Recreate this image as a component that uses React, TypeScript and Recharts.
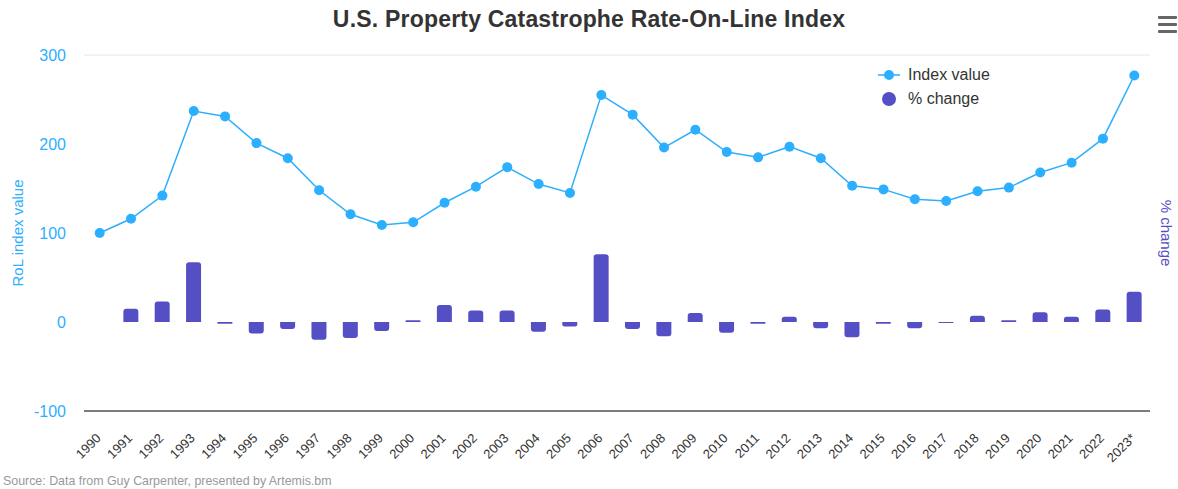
import React from 'react';
import {
  ComposedChart,
  Line,
  Bar,
  XAxis,
  YAxis,
  CartesianGrid,
} from 'recharts';

// 연도 / 지수값 / 전년 대비 변화율
const years = [
  '1990', '1991', '1992', '1993', '1994', '1995', '1996', '1997', '1998', '1999',
  '2000', '2001', '2002', '2003', '2004', '2005', '2006', '2007', '2008', '2009',
  '2010', '2011', '2012', '2013', '2014', '2015', '2016', '2017', '2018', '2019',
  '2020', '2021', '2022', '2023*',
];
const indexValues = [
  100, 116, 142, 237, 231, 201, 184, 148, 121, 109,
  112, 134, 152, 174, 155, 145, 255, 233, 196, 216,
  191, 185, 197, 184, 153, 149, 138, 136, 147, 151,
  168, 179, 206, 277,
];
const pctChange = [
  0, 15, 23, 67, -2, -13, -8, -20, -18, -10,
  2, 19, 13, 13, -11, -5, 76, -8, -16, 10,
  -12, -2, 6, -7, -17, -2, -7, -1, 7, 2,
  11, 6, 14, 34,
];
const yTicks = [-100, 0, 100, 200, 300];

const LINE_COLOR = '#2caffe';
const BAR_COLOR = '#544fc5';
const FONT = '"Liberation Sans", Arial, Helvetica, sans-serif';

const chartData = years.map((year, i) => ({
  year,
  index: indexValues[i],
  change: pctChange[i],
}));

// 막대 끝쪽만 둥글게
const RoundedBar = (props: any) => {
  const { x, y, width, height, payload } = props;
  const h = Math.abs(height);
  if (!h) return null;
  const top = Math.min(y, y + height);
  const r = Math.min(3, h / 2, width / 2);
  const positive = payload.change >= 0;
  let d: string;
  if (positive) {
    d = `M${x},${top + h} L${x},${top + r} Q${x},${top} ${x + r},${top} L${x + width - r},${top} Q${x + width},${top} ${x + width},${top + r} L${x + width},${top + h} Z`;
  } else {
    const b = top + h;
    d = `M${x},${top} L${x + width},${top} L${x + width},${b - r} Q${x + width},${b} ${x + width - r},${b} L${x + r},${b} Q${x},${b} ${x},${b - r} Z`;
  }
  return <path d={d} fill={BAR_COLOR} />;
};

const XTick = ({ x, y, payload }: any) => (
  <g transform={`translate(${x + 2},${y + 26})`}>
    <text
      x={0}
      y={0}
      textAnchor="end"
      transform="rotate(-45)"
      fill="#333"
      fontSize={13}
      fontFamily={FONT}
    >
      {payload.value}
    </text>
  </g>
);

// 축 제목 (회전 텍스트)
const AxisTitle = (text: string, cx: number, angle: number, color: string) => () => (
  <text
    x={cx}
    y={233}
    transform={`rotate(${angle}, ${cx}, 233)`}
    textAnchor="middle"
    dominantBaseline="central"
    fill={color}
    fontSize={15}
    fontFamily={FONT}
  >
    {text}
  </text>
);

const LegendBox = () => (
  <div
    style={{
      position: 'absolute',
      left: 878,
      top: 63,
      fontFamily: FONT,
      fontSize: 16,
      color: '#333',
    }}
  >
    <div style={{ display: 'flex', alignItems: 'center', height: 24 }}>
      <svg width={26} height={14} style={{ marginRight: 4 }}>
        <line x1={0} y1={7} x2={22} y2={7} stroke={LINE_COLOR} strokeWidth={1.5} />
        <circle cx={11} cy={7} r={5} fill={LINE_COLOR} />
      </svg>
      Index value
    </div>
    <div style={{ display: 'flex', alignItems: 'center', height: 24 }}>
      <svg width={26} height={16} style={{ marginRight: 4 }}>
        <circle cx={11} cy={8} r={7} fill={BAR_COLOR} />
      </svg>
      % change
    </div>
  </div>
);

export default function App() {
  return (
    <div
      style={{
        position: 'absolute',
        left: 0,
        top: 0,
        width: 1178,
        height: 489,
        background: '#fff',
        fontFamily: FONT,
      }}
    >
      <ComposedChart
        width={1178}
        height={489}
        data={chartData}
        margin={{ top: 55, right: 0, bottom: 18, left: 0 }}
      >
        <CartesianGrid horizontal vertical={false} stroke="#e6e6e6" />
        <XAxis
          dataKey="year"
          interval={0}
          height={60}
          tickLine={false}
          tickSize={0}
          tick={<XTick />}
          axisLine={{ stroke: '#555', strokeWidth: 1.5 }}
        />
        <YAxis
          yAxisId="left"
          domain={[-100, 300]}
          ticks={yTicks}
          width={84}
          axisLine={false}
          tickLine={false}
          tickMargin={12}
          tick={{ fill: LINE_COLOR, fontSize: 16, fontFamily: FONT }}
          label={{ content: AxisTitle('RoL index value', 17, -90, LINE_COLOR) }}
        />
        <YAxis
          yAxisId="right"
          orientation="right"
          domain={[-100, 300]}
          ticks={yTicks}
          width={28}
          axisLine={false}
          tickLine={false}
          tick={false}
          label={{ content: AxisTitle('% change', 1166, 90, BAR_COLOR) }}
        />
        <Bar
          yAxisId="right"
          dataKey="change"
          name="% change"
          barSize={15}
          fill={BAR_COLOR}
          shape={<RoundedBar />}
          isAnimationActive={false}
        />
        <Line
          yAxisId="left"
          dataKey="index"
          name="Index value"
          stroke={LINE_COLOR}
          strokeWidth={1.5}
          dot={{ r: 5, fill: LINE_COLOR, stroke: 'none' }}
          activeDot={false}
          isAnimationActive={false}
        />
      </ComposedChart>
      <LegendBox />
      <div
        style={{
          position: 'absolute',
          top: 6,
          left: 0,
          width: 1178,
          textAlign: 'center',
          fontSize: 23,
          fontWeight: 'bold',
          color: '#333',
          letterSpacing: 0.2,
        }}
      >
        U.S. Property Catastrophe Rate-On-Line Index
      </div>
      {/* 메뉴 아이콘 */}
      {[16, 23, 30].map((t) => (
        <div
          key={t}
          style={{
            position: 'absolute',
            left: 1158,
            top: t,
            width: 19,
            height: 2.5,
            background: '#666',
            borderRadius: 1,
          }}
        />
      ))}
      <div
        style={{
          position: 'absolute',
          left: 3,
          top: 474,
          fontSize: 12.4,
          color: '#999',
        }}
      >
        Source: Data from Guy Carpenter, presented by Artemis.bm
      </div>
    </div>
  );
}
